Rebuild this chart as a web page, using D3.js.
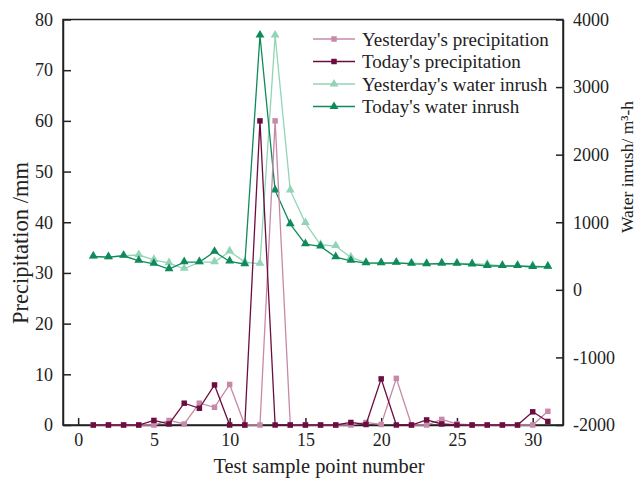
<!DOCTYPE html>
<html>
<head>
<meta charset="utf-8">
<script src="https://cdn.jsdelivr.net/npm/d3@7/dist/d3.min.js"></script>
<style>
  html, body { margin: 0; padding: 0; background: #fff; }
  svg { display: block; font-family: "Liberation Serif", "Times New Roman", serif; }
</style>
</head>
<body>
<svg id="chart" width="642" height="482"></svg>
<script>
// Sample point numbers 1..31
const samplePoints = d3.range(1, 32);

// Precipitation (mm)
const yesterdayPrecip = [0, 0, 0, 0, 0, 0.9, 0.2, 4.3, 3.5, 8.0, 0, 0, 60, 0, 0, 0, 0, 0, 0.5, 0.1, 9.2, 0, 0, 1.1, 0.2, 0, 0, 0, 0, 0, 2.7];
const todayPrecip     = [0, 0, 0, 0, 0.9, 0.2, 4.3, 3.3, 7.9, 0, 0, 60, 0, 0, 0, 0, 0, 0.5, 0.1, 9.1, 0, 0, 1.0, 0.2, 0, 0, 0, 0, 0, 2.6, 0.7];

// Water inrush (m³/h)
const yesterdayInrush = [493, 484, 504, 515, 444, 395, 311, 410, 410, 568, 410, 385, 3763, 1471, 988, 667, 648, 479, 402, 397, 400, 395, 387, 382, 392, 387, 377, 355, 355, 355, 340];
const todayInrush     = [493, 484, 504, 430, 385, 306, 410, 410, 563, 420, 380, 3763, 1471, 973, 677, 642, 484, 430, 395, 395, 400, 385, 380, 390, 385, 375, 353, 353, 353, 338, 343];

// Axis ticks
const xTicks = [0, 5, 10, 15, 20, 25, 30];
const precipTicks = [0, 10, 20, 30, 40, 50, 60, 70, 80];
const inrushTicks = [-2000, -1000, 0, 1000, 2000, 3000, 4000];

const seriesNames = ["Yesterday's precipitation", "Today's precipitation", "Yesterday's water inrush", "Today's water inrush"];
const seriesColors = ["#c68aa8", "#6c0d42", "#92d4b6", "#0f8a5b"];

const svg = d3.select("#chart");
const m = { left: 63, right: 563, top: 19.5, bottom: 425 };

const x = d3.scaleLinear().domain([-1, 32]).range([m.left, m.right]);
const yL = d3.scaleLinear().domain([0, 80]).range([m.bottom, m.top]);
const yR = d3.scaleLinear().domain([-2000, 4000]).range([m.bottom, m.top]);

const tickFont = 18;
const plain = d => String(d);

// Frame
svg.append("rect")
  .attr("x", m.left).attr("y", m.top)
  .attr("width", m.right - m.left).attr("height", m.bottom - m.top)
  .attr("fill", "none").attr("stroke", "#222").attr("stroke-width", 1.5);

// Axes with inward ticks
const bottomAxis = d3.axisBottom(x).tickValues(xTicks).tickFormat(plain).tickSizeInner(-7).tickSizeOuter(0).tickPadding(8);
const leftAxis = d3.axisLeft(yL).tickValues(precipTicks).tickFormat(plain).tickSizeInner(-8).tickSizeOuter(0).tickPadding(10);
const rightAxis = d3.axisRight(yR).tickValues(inrushTicks).tickFormat(plain).tickSizeInner(-7).tickSizeOuter(0).tickPadding(10);

function styleAxis(g) {
  g.attr("font-family", null);
  g.select(".domain").attr("stroke", "#222").attr("stroke-width", 1.5);
  g.selectAll(".tick line").attr("stroke", "#222").attr("stroke-width", 1.5);
  g.selectAll(".tick text").attr("font-size", tickFont).attr("fill", "#222");
}

svg.append("g").attr("transform", `translate(0,${m.bottom})`).call(bottomAxis).call(styleAxis);
svg.append("g").attr("transform", `translate(${m.left},0)`).call(leftAxis).call(styleAxis);
svg.append("g").attr("transform", `translate(${m.right},0)`).call(rightAxis).call(styleAxis);

// Axis titles
svg.append("text")
  .attr("x", 319).attr("y", 473)
  .attr("text-anchor", "middle").attr("font-size", 20.4).attr("fill", "#222")
  .text("Test sample point number");

svg.append("text")
  .attr("transform", "translate(28,243) rotate(-90)")
  .attr("text-anchor", "middle").attr("font-size", 22.5).attr("fill", "#222")
  .text("Precipitation /mm");

svg.append("text")
  .attr("transform", "translate(633,167) rotate(-90)")
  .attr("text-anchor", "middle").attr("font-size", 17.5).attr("fill", "#222")
  .text("Water inrush/ m³-h");

// Series
const series = [
  { name: seriesNames[0], values: yesterdayPrecip, y: yL, color: seriesColors[0], marker: "square" },
  { name: seriesNames[1], values: todayPrecip,     y: yL, color: seriesColors[1], marker: "square" },
  { name: seriesNames[2], values: yesterdayInrush, y: yR, color: seriesColors[2], marker: "triangle" },
  { name: seriesNames[3], values: todayInrush,     y: yR, color: seriesColors[3], marker: "triangle" }
];

const sqSym = d3.symbol().type(d3.symbolSquare).size(30);
const triSym = d3.symbol().type(d3.symbolTriangle).size(34);

// Draw inrush first, then precipitation on top
const drawOrder = [2, 3, 0, 1];
drawOrder.forEach(i => {
  const s = series[i];
  const pts = samplePoints.map((p, k) => [p, s.values[k]]);
  const line = d3.line().x(d => x(d[0])).y(d => s.y(d[1]));
  const g = svg.append("g");
  g.append("path").datum(pts)
    .attr("d", line).attr("fill", "none")
    .attr("stroke", s.color).attr("stroke-width", 1.3);
  g.selectAll("path.mk").data(pts).enter().append("path")
    .attr("class", "mk")
    .attr("d", s.marker === "square" ? sqSym : triSym)
    .attr("transform", d => `translate(${x(d[0])},${s.y(d[1]) + (s.marker === "triangle" ? -0.5 : 0)})`)
    .attr("fill", s.color);
});

// Legend
const legend = svg.append("g");
const legY = [39, 61.5, 84, 106.5];
series.forEach((s, i) => {
  const gy = legY[i];
  legend.append("line")
    .attr("x1", 313).attr("x2", 355).attr("y1", gy).attr("y2", gy)
    .attr("stroke", s.color).attr("stroke-width", 1.3);
  legend.append("path")
    .attr("d", s.marker === "square" ? sqSym : triSym)
    .attr("transform", `translate(334,${gy})`)
    .attr("fill", s.color);
  legend.append("text")
    .attr("x", 362).attr("y", gy + 6.5)
    .attr("font-size", 19).attr("fill", "#222")
    .text(s.name);
});
</script>
</body>
</html>
